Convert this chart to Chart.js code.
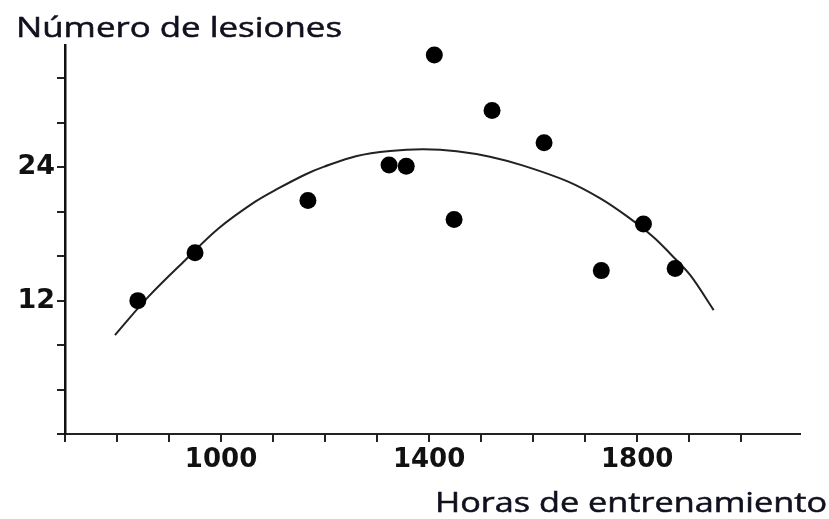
<!DOCTYPE html>
<html>
<head>
<meta charset="utf-8">
<script src="https://cdn.jsdelivr.net/npm/chart.js@4/dist/chart.umd.min.js"></script>
<style>
  html, body { margin: 0; padding: 0; background: #fff; }
  #wrap { width: 829px; height: 519px; }
</style>
</head>
<body>
<div id="wrap"><canvas id="chart" width="829" height="519"></canvas></div>
<script>
// puntos observados
const lesionHours = [840, 950, 1167, 1323, 1356, 1410, 1448, 1521, 1621, 1731, 1812, 1873];
const lesionCounts = [12.0, 16.3, 21.0, 24.2, 24.1, 34.1, 19.3, 29.1, 26.2, 14.7, 18.9, 14.9];
// curva ajustada
const curveHours = [796, 860, 931, 995, 1065, 1110, 1162, 1197, 1261, 1325, 1389, 1453, 1517, 1581, 1665, 1729, 1780, 1831, 1864, 1902, 1947];
const curveCounts = [8.9, 12.34, 15.64, 18.49, 20.88, 22.09, 23.35, 24.03, 25.02, 25.47, 25.62, 25.45, 24.95, 24.15, 22.75, 21.2, 19.6, 17.73, 16.2, 14.29, 11.15];
const xTickLabels = [1000, 1400, 1800];
const yTickLabels = [12, 24];
const yTitle = 'Número de lesiones';
const xTitle = 'Horas de entrenamiento';

// text drawn at the corners, stretched like the scanned figure
const cornerTitles = {
    id: 'cornerTitles',
    afterDraw(chart) {
        let ctx = chart.ctx;
        let drawStretched = function (text, left, baseline, targetWidth) {
            ctx.save();
            ctx.font = '27px "Open Sans"';
            ctx.fillStyle = '#10101e';
            ctx.strokeStyle = '#10101e';
            ctx.lineWidth = 0.5;
            ctx.textBaseline = 'alphabetic';
            let w = ctx.measureText(text).width;
            ctx.translate(left, baseline);
            ctx.scale(targetWidth / w, 1);
            ctx.fillText(text, 0, 0);
            ctx.strokeText(text, 0, 0);
            ctx.restore();
        };
        drawStretched(yTitle, 16, 37, 326);
        drawStretched(xTitle, 435, 512, 392);
    }
};

let chart = new Chart(document.getElementById('chart'), {
    type: 'scatter',
    data: {
        datasets: [{
            data: lesionHours.map((h, i) => ({x: h, y: lesionCounts[i]})),
            pointRadius: 8.5,
            pointHoverRadius: 8.5,
            pointBackgroundColor: '#000',
            pointBorderWidth: 0,
            order: 1
        }, {
            data: curveHours.map((h, i) => ({x: h, y: curveCounts[i]})),
            showLine: true,
            pointRadius: 0,
            borderColor: '#222',
            borderWidth: 2,
            tension: 0.35,
            order: 2
        }]
    },
    options: {
        responsive: false,
        animation: false,
        layout: {padding: {top: 45, right: 29, left: 0, bottom: 0}},
        plugins: {legend: {display: false}, tooltip: {enabled: false}},
        scales: {
            x: {
                type: 'linear',
                min: 700,
                max: 2113,
                afterFit: s => { s.height = 85; },
                afterBuildTicks: s => { s.ticks = s.ticks.filter(t => t.value % 100 === 0); },
                ticks: {
                    stepSize: 100,
                    maxTicksLimit: 30,
                    autoSkip: false,
                    maxRotation: 0,
                    padding: 3,
                    color: '#111',
                    font: {family: '"DejaVu Sans"', size: 26, weight: 'bold'},
                    callback: v => xTickLabels.includes(v) ? String(v) : ''
                },
                grid: {drawOnChartArea: false, drawTicks: true, tickLength: 8, color: '#222', lineWidth: 2},
                border: {display: true, color: '#222', width: 2}
            },
            y: {
                min: 0,
                max: 35,
                afterFit: s => { s.width = 65; },
                afterBuildTicks: s => { s.ticks = s.ticks.filter(t => t.value % 4 === 0); },
                ticks: {
                    stepSize: 4,
                    maxTicksLimit: 30,
                    autoSkip: false,
                    padding: 2,
                    color: '#111',
                    font: {family: '"DejaVu Sans"', size: 27, weight: 'bold'},
                    callback: v => yTickLabels.includes(v) ? String(v) : ''
                },
                grid: {drawOnChartArea: false, drawTicks: true, tickLength: 8, color: '#222', lineWidth: 2},
                border: {display: true, color: '#111', width: 2.5}
            }
        }
    },
    plugins: [cornerTitles]
});
</script>
</body>
</html>
